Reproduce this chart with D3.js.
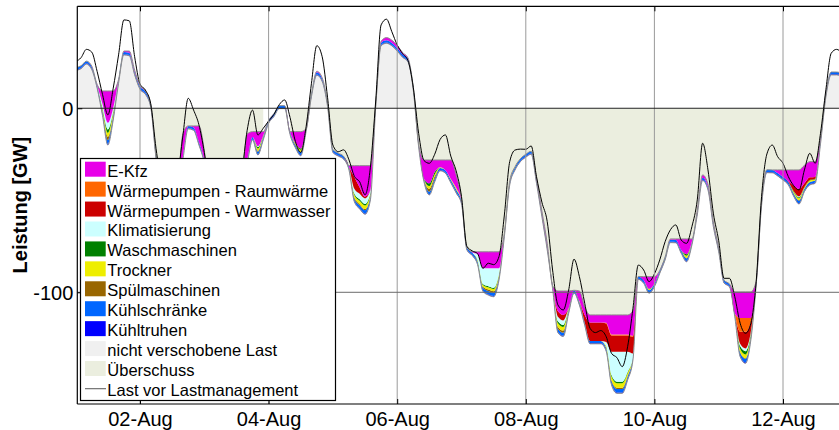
<!DOCTYPE html>
<html>
<head>
<meta charset="utf-8">
<script src="https://cdn.jsdelivr.net/npm/d3@7"></script>
<style>
  body { margin: 0; background: #fff; }
  svg { display: block; font-family: "Liberation Sans", Arial, sans-serif; }
</style>
</head>
<body>
<div id="chart"></div>
<script>
// Zeitachse: Stunden ab 01-Aug 00:00, alle 2 Stunden (eine Zeile = ein Tag)
var stunden = d3.range(0, 288, 2);

// untere Kante des Stapels (Residuallast ohne flexible Lasten), GW
var basis = [
  20.5, 21.5, 24, 21, 10.9, -4, -20, -6.4, 13.6, 29, 28.5, 18.1,
  10.3, 7.6, 0.5, -27.5, -45, -55, -55, -45, -28, -11.2, -12, -20,
  -30, -50, -60, -65, -65, -60, -50, -40, -30, -17.2, -25.4, -17.2,
  -8.2, -4.5, -0.2, -0.2, -14.3, -21.5, -25.8, -12.7, 6.3, 18, 14.5, 1,
  -24, -26, -27.7, -33.5, -50.8, -54.7, -57.6, -49.8, 1, 34, 35.3, 33.9,
  31.1, 27.7, 25.3, 9.9, -21, -40, -47.1, -40, -34, -35.3, -40.5, -46,
  -52, -77, -80, -85, -99.5, -101.5, -102.4, -93.3, -69.8, -41.7, -33.5, -29,
  -26.6, -25, -40.8, -58.9, -77, -98, -122, -124, -111.4, -100.5, -106.9, -118,
  -128, -128, -128, -132, -150.4, -154.9, -154.9, -147.7, -136.8, -93, -95.1, -100.5,
  -97, -89.7, -82.4, -73, -73.1, -78.8, -83.4, -74.3, -58, -39.3, -44.4, -64.3,
  -78, -95, -97, -113.3, -135, -138.6, -125.9, -96, -53, -35, -35.1, -36.8,
  -39, -41.7, -47.9, -52, -45.3, -41.7, -40.8, -19.4, 6, 18.1, 18.1, 17.5
];

var kuehltruhen = [
  .4, .4, .4, .4, .4, .4, .6, .4, .4, .4, .4, .4,
  .4, .4, .4, .4, .4, .4, .4, .4, .4, .4, .4, .4,
  .4, .4, .4, .4, .4, .4, .4, .4, .4, .4, .4, .4,
  .4, .4, .4, .4, .4, .4, .4, .4, .4, .4, .4, .4,
  .4, .4, .4, .4, .4, .4, .4, .4, .4, .4, .4, .4,
  .4, .4, .4, .4, .4, .4, .4, .4, .4, .4, .4, .4,
  .4, .4, .4, .4, .4, .4, .4, .4, .4, .4, .4, .4,
  .4, .4, .4, .4, .4, .4, .4, .4, .4, .4, .4, .4,
  .4, .4, .4, .4, .4, .5, .5, .4, .4, .4, .4, .4,
  .4, .4, .4, .4, .4, .4, .4, .4, .4, .4, .4, .4,
  .4, .4, .4, .4, .4, .5, .4, .4, .4, .4, .4, .4,
  .4, .4, .4, .4, .4, .4, .4, .4, .4, .4, .4, .4
];

var kuehlschraenke = [
  1.2, 1.2, 1.2, 1.2, 1.2, 1.6, 2.1, 1.6, 1.2, 1.2, 1.2, 1.2,
  1.2, 1.2, 1.2, 1.2, 1.2, 1.2, 1.2, 1.2, 1.2, 1.2, 1.2, 1.2,
  1.2, 1.2, 1.2, 1.2, 1.2, 1.2, 1.2, 1.2, 1.2, 1.2, 1.4, 1.2,
  1.2, 1.2, 1.2, 1.2, 1.2, 1.2, 1.4, 1.2, 1.2, 1.2, 1.2, 1.2,
  1.2, 1.2, 1.2, 1.2, 1.4, 1.6, 1.8, 1.4, 1.2, 1.2, 1.2, 1.2,
  1.2, 1.2, 1.2, 1.2, 1.2, 1.2, 1.4, 1.4, 1.2, 1.2, 1.2, 1.4,
  1.2, 1.2, 1.2, 1.2, 1.6, 1.8, 1.8, 1.4, 1.2, 1.2, 1.2, 1.2,
  1.2, 1.2, 1.2, 1.2, 1.2, 1.2, 1.6, 1.6, 1.2, 1.2, 1.2, 1.2,
  1.2, 1.2, 1.2, 1.2, 1.6, 1.8, 1.8, 1.4, 1.2, 1.2, 1.2, 1.2,
  1.2, 1.2, 1.2, 1.2, 1.2, 1.2, 1.4, 1.2, 1.2, 1.2, 1.2, 1.2,
  1.2, 1.2, 1.2, 1.2, 1.8, 2, 1.4, 1.2, 1.2, 1.2, 1.2, 1.2,
  1.2, 1.2, 1.2, 1.4, 1.2, 1.2, 1.2, 1.2, 1.2, 1.2, 1.2, 1.2
];

var spuelmaschinen = [
  0, 0, 0, 0, 0, .5, 1.8, .6, 0, 0, 0, 0,
  0, 0, 0, 0, 0, 0, 0, 0, 0, 0, 0, 0,
  0, 0, 0, 0, 0, 0, 0, 0, 0, 0, .5, 0,
  0, 0, 0, 0, 0, .3, .5, 0, 0, 0, 0, 0,
  0, 0, 0, 0, .6, .6, .6, .4, 0, 0, 0, 0,
  0, 0, 0, 0, 0, 0, 1.5, 1.2, 0, 0, 0, 0,
  0, 0, 0, .3, .5, .8, .8, .5, 0, 0, 0, 0,
  0, 0, 0, 0, 0, 0, 1.2, 1.2, 0, 0, 0, 0,
  0, 0, 0, .3, .6, .7, .7, .5, 0, 0, 0, 0,
  0, 0, 0, 0, 0, 0, .3, 0, 0, 0, 0, 0,
  0, 0, 0, 0, .3, .3, .2, 0, 0, 0, 0, 0,
  0, 0, 0, .3, 0, 0, 0, 0, 0, 0, 0, 0
];

var trockner = [
  0, 0, 0, 0, 0, 1, 2.2, 1.2, 0, 0, 0, 0,
  0, 0, 0, 0, 0, 0, 0, 0, 0, 0, 0, 0,
  0, 0, 0, 0, 0, 0, 0, 0, 0, 0, 1.2, .5,
  0, 0, 0, 0, 0, .6, 1, 0, 0, 0, 0, 0,
  0, 0, 0, 0, 1.4, 1.8, 2, 1, 0, 0, 0, 0,
  0, 0, 0, 0, 0, 0, 1.5, 1.2, .4, 0, .5, 1,
  0, 0, 0, .5, 1, 1.2, 1.2, .8, .3, .4, .2, 0,
  0, 0, 0, 0, 0, 0, 2, 2, .8, 0, .5, 0,
  0, 0, 0, .8, 2, 2.5, 2.5, 1.5, 0, 0, 0, .5,
  0, 0, 0, 0, 0, 0, 1.2, .3, 0, 0, 0, 0,
  0, 0, 0, 0, 1.8, 2, 1, 0, 0, 0, 0, 0,
  0, 0, .8, 1, .6, .8, .6, 0, 0, 0, 0, 0
];

var waschmaschinen = [
  0, 0, 0, 0, 0, .8, 1.8, .8, 0, 0, 0, 0,
  0, 0, 0, 0, 0, 0, 0, 0, 0, 0, 0, 0,
  0, 0, 0, 0, 0, 0, 0, 0, 0, 0, .8, .3,
  0, 0, 0, 0, 0, .3, .6, 0, 0, 0, 0, 0,
  0, 0, 0, 0, .7, .8, .8, .5, 0, 0, 0, 0,
  0, 0, 0, 0, 0, 0, 1.5, 1.2, 0, 0, 0, 0,
  0, 0, 0, .3, .5, .6, .6, .4, 0, 0, 0, 0,
  0, 0, 0, 0, 0, 0, 1, 1, .4, 0, 0, 0,
  0, 0, 0, .3, .8, .8, .8, .6, 0, 0, 0, .3,
  0, 0, 0, 0, 0, 0, .8, 0, 0, 0, 0, 0,
  0, 0, 0, 0, 1.5, 1.8, .8, 0, 0, 0, 0, 0,
  0, 0, .4, .5, .3, .3, .3, 0, 0, 0, 0, 0
];

var klimatisierung = [
  0, 0, 0, 0, 0, 2, 3.6, 2, 0, 0, 0, 0,
  0, 0, 0, 0, 0, 0, 0, 0, 0, 0, 0, 0,
  0, 0, 0, 0, 0, 0, 0, 0, 0, 0, .5, 0,
  0, 0, 0, 0, 0, 0, 0, 0, 0, 0, 0, 0,
  0, 0, 0, 0, 2.5, 3, 3, 1.5, 0, 0, 0, 0,
  0, 0, 0, 0, 0, 0, 0, 0, 0, 0, 0, 0,
  0, 0, 0, 3, 8.5, 9.7, 10.6, 2.8, 0, 0, 0, 0,
  0, 0, 0, 0, 0, 0, 2.5, 2.5, 0, 0, 0, 0,
  0, 0, 0, 2, 12.7, 16.3, 16.3, 11, 2, 0, 0, 0,
  0, 0, 0, 0, 0, 0, 0, 0, 0, 0, 0, 0,
  0, 0, 0, 0, 1.2, 1.5, .8, 0, 0, 0, 0, 0,
  0, 0, 0, .5, 0, 0, 0, 0, 0, 0, 0, 0
];

var wpWarmwasser = [
  0, 0, 0, 0, 0, 0, 0, 0, 0, 0, 0, 0,
  0, 0, 0, 0, 0, 0, 0, 0, 0, 0, 0, 0,
  0, 0, 0, 0, 0, 0, 0, 0, 0, 0, 0, 0,
  0, 0, 0, 0, 0, 0, 0, 0, 0, 0, 0, 0,
  0, 0, 0, 0, 6.5, 3.5, 1, 0, 0, 0, 0, 0,
  0, 0, 0, 0, 0, 0, 0, 0, 0, 0, 0, 0,
  0, 0, 0, 0, 0, 0, 0, 0, 0, 0, 0, 0,
  0, 0, 0, 0, 0, 0, 3, 3, 0, 0, 0, 4,
  10, 10, 10, 10, 8.8, 8.8, 8.8, 8.8, 9, 0, 0, 0,
  0, 0, 0, 0, 0, 0, 0, 0, 0, 0, 0, 0,
  0, 0, 0, 0, 6.5, 9, 5, 0, 0, 0, 0, 0,
  0, .5, 3, 4, 2, 1.5, 1, 0, 0, 0, 0, 0
];

var wpRaumwaerme = [
  0, 0, 0, 0, 0, 0, 0, 0, 0, 0, 0, 0,
  0, 0, 0, 0, 0, 0, 0, 0, 0, 0, 0, 0,
  0, 0, 0, 0, 0, 0, 0, 0, 0, 0, 0, 0,
  0, 0, 0, 0, 0, 0, 0, 0, 0, 0, 0, 0,
  0, 0, 0, 0, 0, 0, 0, 0, 0, 0, 0, 0,
  0, 0, 0, 0, 0, 0, 0, 0, 0, 0, 0, 0,
  0, 0, 0, 0, 0, 0, 0, 0, 0, 0, 0, 0,
  0, 0, 0, 0, 0, 0, 0, 0, 0, 0, 0, 0,
  0, 0, 0, .4, .5, .5, .5, .5, .5, 0, 0, 0,
  0, 0, 0, 0, 0, 0, 0, 0, 0, 0, 0, 0,
  0, 0, 0, 0, 7.5, 7.5, 2.3, 0, 0, 0, 0, 0,
  0, 0, 0, 0, 0, 0, 0, 0, 0, 0, 0, 0
];

var ekfz = [
  0, 0, 0, .3, .5, 7.1, 17.3, 9.2, .5, .5, 1, 1,
  .5, .3, 0, 0, 0, 0, 0, 0, 12.4, 0, .8, 8.8,
  5.4, 0, 0, 0, 0, 0, 0, 0, 14.4, 2.9, 7.9, 2.1,
  0, 0, 0, 0, 0, 6, 9.2, 0, 0, .5, .5, 0,
  0, 0, 0, .7, 6.1, 11.8, 16.8, 13.4, 0, .8, 1.5, 1.5,
  1.5, 1, .5, 0, 0, 10.3, 12.7, 6.5, 3.9, 5.6, 10.3, 7.2,
  1, 0, .4, 1.3, 9, 9, 9, 9, 0, .3, 0, 0,
  0, 0, 1, 1.5, 2, 0, 11, 13, 9.3, 0, 5.5, 4.4,
  4.1, 4.1, 4.1, 4.3, 10.7, 10.7, 10.7, 10.7, 13.7, 0, 2, 6.6,
  3.9, 0, 0, .4, .5, 6.2, 8.3, 1.4, 1, 1.5, 1.5, 1,
  .5, 0, 0, 11.9, 14.2, 14.2, 14.2, .5, 1, 0, 0, 1.7,
  3.9, 6.1, 8.6, 10.4, 9.8, 8.5, 8.3, 1.5, .5, 0, 0, 0
];

// Last vor Lastmanagement (schwarze Linie)
var lastVorher = [
  25.3, 27.5, 32, 30.5, 20, 7.6, -3.6, 10.9, 29, 48, 47.5, 28,
  13.2, 9.9, 2.5, -22, -40, -48, -50, -38, -15, 5.4, -1, -9,
  -24, -45, -55, -60, -60, -55, -45, -35, -12, -1, -14.5, -10.9,
  -7, -3.3, 2, 4.5, -5, -18, -24, -10, 13.6, 34, 28, 6,
  -20, -23.6, -22.6, -28, -37, -40, -47, -32, 4.5, 45.3, 48.4, 41.6,
  34.4, 29.7, 26, 11.4, -13.6, -28.4, -29.9, -25, -17, -14.5, -26, -34,
  -48, -75, -77.5, -79, -87, -84.2, -85, -80.6, -58, -29, -22.7, -22.2,
  -22.3, -20.5, -37.2, -51, -61.6, -87.9, -106.9, -109.6, -98.8, -82, -91.5, -106,
  -119.6, -121.9, -120.8, -124.1, -133.2, -135.5, -140.4, -129.6, -108.7, -85.2, -87.9, -94.2,
  -90, -82.4, -72.5, -66, -63.4, -71.6, -73.4, -64.3, -49.8, -19, -33.5, -57,
  -72, -92.4, -92.4, -102.4, -116.8, -122.3, -116.8, -94, -48, -24.8, -20, -26.3,
  -29.9, -37.2, -42.1, -44.4, -33.5, -24.5, -29.9, -13.6, 10, 29.9, 32, 30
];

// Zeitraum ohne Ueberschussflaeche (Stunden)
var ohneUeberschuss = [72, 78];

var tickStunden = [24, 72, 120, 168, 216, 264];
var tickLabels = ["02-Aug", "04-Aug", "06-Aug", "08-Aug", "10-Aug", "12-Aug"];
var yTicks = [0, -100];

var schichten = ["kuehltruhen", "kuehlschraenke", "spuelmaschinen", "trockner",
  "waschmaschinen", "klimatisierung", "wpWarmwasser", "wpRaumwaerme", "ekfz"];
var farben = {
  kuehltruhen: "#0000FF", kuehlschraenke: "#0066FF", spuelmaschinen: "#996600",
  trockner: "#EEEE00", waschmaschinen: "#008000", klimatisierung: "#CCFFFF",
  wpWarmwasser: "#CC0000", wpRaumwaerme: "#FF6600", ekfz: "#E800E8"
};
var farbeGrau = "#F0F0F0", farbeUeberschuss = "#EBEEDF";

var legende = [
  {name: "E-Kfz", farbe: farben.ekfz},
  {name: "Wärmepumpen - Raumwärme", farbe: farben.wpRaumwaerme},
  {name: "Wärmepumpen - Warmwasser", farbe: farben.wpWarmwasser},
  {name: "Klimatisierung", farbe: farben.klimatisierung},
  {name: "Waschmaschinen", farbe: farben.waschmaschinen},
  {name: "Trockner", farbe: farben.trockner},
  {name: "Spülmaschinen", farbe: farben.spuelmaschinen},
  {name: "Kühlschränke", farbe: farben.kuehlschraenke},
  {name: "Kühltruhen", farbe: farben.kuehltruhen},
  {name: "nicht verschobene Last", farbe: farbeGrau},
  {name: "Überschuss", farbe: farbeUeberschuss},
  {name: "Last vor Lastmanagement", linie: true}
];

var rows = stunden.map(function(h, i) {
  return {
    h: h, basis: basis[i], last: lastVorher[i],
    kuehltruhen: kuehltruhen[i], kuehlschraenke: kuehlschraenke[i],
    spuelmaschinen: spuelmaschinen[i], trockner: trockner[i],
    waschmaschinen: waschmaschinen[i], klimatisierung: klimatisierung[i],
    wpWarmwasser: wpWarmwasser[i], wpRaumwaerme: wpRaumwaerme[i], ekfz: ekfz[i]
  };
});

var W = 839, H = 430;
var pLeft = 77.3, pTop = 6.3, pBottom = 404;

var x = d3.scaleLinear().domain([0, 288]).range([75.7, 847.3]);
var y = d3.scaleLinear().domain([-160.7, 55.4]).range([pBottom, pTop]);

var svg = d3.select("#chart").append("svg")
  .attr("width", W).attr("height", H);

var defs = svg.append("defs");
defs.append("clipPath").attr("id", "plot").append("rect")
  .attr("x", pLeft).attr("y", pTop).attr("width", W - pLeft + 20).attr("height", pBottom - pTop);
defs.append("clipPath").attr("id", "oben").append("rect")
  .attr("x", pLeft).attr("y", pTop).attr("width", W - pLeft + 20).attr("height", y(0) - pTop);
defs.append("clipPath").attr("id", "unten").append("rect")
  .attr("x", pLeft).attr("y", y(0)).attr("width", W - pLeft + 20).attr("height", pBottom - y(0));

var plot = svg.append("g").attr("clip-path", "url(#plot)");

// Stapel: basis + flexible Lasten
var stack = d3.stack().keys(["basis"].concat(schichten));
var series = stack(rows);
var obenKante = series[series.length - 1];

var curve = d3.curveMonotoneX;

// nicht verschobene Last (zwischen 0 und basis, oberhalb 0)
plot.append("g").attr("clip-path", "url(#oben)")
  .append("path")
  .datum(rows)
  .attr("fill", farbeGrau)
  .attr("d", d3.area().curve(curve)
    .x(function(d) { return x(d.h); })
    .y0(y(0))
    .y1(function(d) { return y(d.basis); }));

// Ueberschuss (zwischen 0 und oberer Kante, unterhalb 0)
plot.append("g").attr("clip-path", "url(#unten)")
  .append("path")
  .datum(obenKante)
  .attr("fill", farbeUeberschuss)
  .attr("d", d3.area().curve(curve)
    .defined(function(d) { return d.data.h < ohneUeberschuss[0] || d.data.h > ohneUeberschuss[1]; })
    .x(function(d) { return x(d.data.h); })
    .y0(y(0))
    .y1(function(d) { return y(d[1]); }));

// flexible Lasten
var flaeche = d3.area().curve(curve)
  .x(function(d) { return x(d.data.h); })
  .y0(function(d) { return y(d[0]); })
  .y1(function(d) { return y(d[1]); });

plot.selectAll(".schicht")
  .data(series.slice(1))
  .enter()
  .append("path")
    .attr("class", "schicht")
    .attr("fill", function(s) { return farben[s.key]; })
    .attr("d", flaeche);

// Kanten
plot.append("path")
  .datum(obenKante)
  .attr("fill", "none").attr("stroke", "#8c8c8c").attr("stroke-width", 1)
  .attr("d", d3.line().curve(curve)
    .x(function(d) { return x(d.data.h); })
    .y(function(d) { return y(d[1]); }));

plot.append("path")
  .datum(rows)
  .attr("fill", "none").attr("stroke", "#8c8c8c").attr("stroke-width", 1)
  .attr("d", d3.line().curve(curve)
    .x(function(d) { return x(d.h); })
    .y(function(d) { return y(d.basis); }));

plot.append("path")
  .datum(rows)
  .attr("fill", "none").attr("stroke", "#000").attr("stroke-width", 1)
  .attr("d", d3.line().curve(curve)
    .x(function(d) { return x(d.h); })
    .y(function(d) { return y(d.last); }));

// Gitter
plot.selectAll(".vgrid")
  .data(tickStunden)
  .enter()
  .append("line")
    .attr("x1", function(d) { return x(d); })
    .attr("x2", function(d) { return x(d); })
    .attr("y1", pTop).attr("y2", pBottom)
    .attr("stroke", "#9a9a9a").attr("stroke-width", 1);

plot.selectAll(".hgrid")
  .data(yTicks)
  .enter()
  .append("line")
    .attr("x1", pLeft).attr("x2", W + 10)
    .attr("y1", function(d) { return y(d); })
    .attr("y2", function(d) { return y(d); })
    .attr("stroke", function(d) { return d == 0 ? "#222" : "#6a6a6a"; })
    .attr("stroke-width", 1);

// Achsen
var xAxis = svg.append("g")
  .attr("transform", "translate(0," + pBottom + ")")
  .call(d3.axisBottom(x).tickValues(tickStunden)
    .tickFormat(function(d, i) { return tickLabels[i]; })
    .tickSizeInner(-5).tickSizeOuter(0).tickPadding(8));
xAxis.select(".domain").remove();
xAxis.selectAll("text").attr("font-size", 20).attr("font-family", "Liberation Sans, Arial, sans-serif").attr("fill", "#000");

var xTop = svg.append("g")
  .attr("transform", "translate(0," + pTop + ")")
  .call(d3.axisTop(x).tickValues(tickStunden).tickFormat("")
    .tickSizeInner(-5).tickSizeOuter(0));
xTop.select(".domain").remove();

var yAxis = svg.append("g")
  .attr("transform", "translate(" + pLeft + ",0)")
  .call(d3.axisLeft(y).tickValues(yTicks)
    .tickFormat(function(d) { return String(d); })
    .tickSizeInner(-5).tickSizeOuter(0).tickPadding(4));
yAxis.select(".domain").remove();
yAxis.selectAll("text").attr("font-size", 20).attr("font-family", "Liberation Sans, Arial, sans-serif").attr("fill", "#000")
  .attr("dy", "0.36em");

svg.append("line").attr("x1", pLeft).attr("x2", pLeft).attr("y1", pTop).attr("y2", pBottom)
  .attr("stroke", "#000").attr("stroke-width", 1.2);
svg.append("line").attr("x1", pLeft).attr("x2", W).attr("y1", pTop).attr("y2", pTop)
  .attr("stroke", "#000").attr("stroke-width", 1.2);
svg.append("line").attr("x1", pLeft).attr("x2", W).attr("y1", pBottom).attr("y2", pBottom)
  .attr("stroke", "#000").attr("stroke-width", 1.2);

svg.append("text")
  .attr("transform", "translate(27," + ((pTop + pBottom) / 2) + ")rotate(-90)")
  .attr("text-anchor", "middle")
  .attr("font-size", 20).attr("font-weight", "bold")
  .text("Leistung [GW]");

// Legende
var leg = svg.append("g");
leg.append("rect")
  .attr("x", 80.5).attr("y", 158.5).attr("width", 255).attr("height", 242)
  .attr("fill", "#fff").attr("stroke", "#000").attr("stroke-width", 1.2);

var eintrag = leg.selectAll(".eintrag")
  .data(legende)
  .enter()
  .append("g")
    .attr("transform", function(d, i) { return "translate(0," + (i * 19.93) + ")"; });

eintrag.filter(function(d) { return !d.linie; })
  .append("rect")
    .attr("x", 85).attr("y", 161.7).attr("width", 20.7).attr("height", 15)
    .attr("fill", function(d) { return d.farbe; });

eintrag.filter(function(d) { return d.linie; })
  .append("line")
    .attr("x1", 85).attr("x2", 106).attr("y1", 169.5).attr("y2", 169.5)
    .attr("stroke", "#555").attr("stroke-width", 1);

eintrag.append("text")
  .attr("x", 107.3).attr("y", 176.7)
  .attr("font-size", 16.5)
  .text(function(d) { return d.name; });
</script>
</body>
</html>
